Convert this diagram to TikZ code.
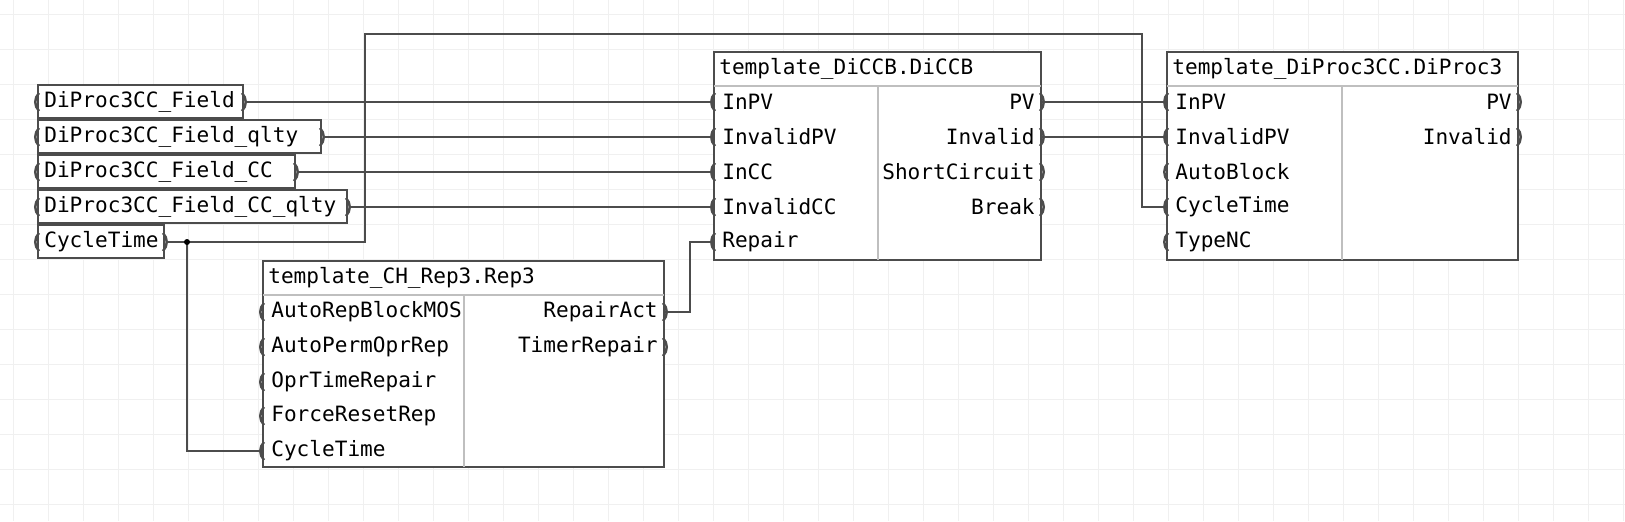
\documentclass[tikz,border=0pt]{standalone}
\usepackage{fontspec}
\setmainfont{DejaVu Sans Mono}
\usetikzlibrary{positioning}
\tikzstyle{wire} = [draw=black!70, line width=0.9pt]
\tikzstyle{blk} = [draw=black!70, line width=0.9pt, fill=white]
\tikzstyle{sep} = [draw=black!25, line width=0.7pt]
\tikzstyle{lbl} = [inner sep=0pt, font=\fontsize{12pt}{14pt}\selectfont]
\tikzstyle{inP} = [draw=black!70, line width=1.4pt]
\newcommand{\lparen}[2]{\draw[inP] (#1+1,#2-9) .. controls (#1-4,#2-4) and (#1-4,#2+4) .. (#1+1,#2+9);}
\newcommand{\rparen}[2]{\draw[inP] (#1-1,#2-9) .. controls (#1+4,#2-4) and (#1+4,#2+4) .. (#1-1,#2+9);}
\begin{document}
\begin{tikzpicture}[x=0.02cm, y=-0.02cm]
  % background grid
  \foreach \gx in {13,48,...,1625} \draw[black!6] (\gx,0) -- (\gx,521);
  \foreach \gy in {14,49,...,521} \draw[black!6] (0,\gy) -- (1625,\gy);

  % input variables
  \foreach \name/\txt/\r/\y in {f/DiProc3CC\_Field/247/102, fq/DiProc3CC\_Field\_qlty/325/137,
      fc/DiProc3CC\_Field\_CC/299/172, fcq/DiProc3CC\_Field\_CC\_qlty/351/207, ct/CycleTime/168/242}{
    \draw[blk] (38,\y-17) rectangle (\r-4,\y+16);
    \node[lbl, anchor=west] at (44,\y) {\txt};
    \lparen{38}{\y}
    \rparen{\r-4}{\y}
    \coordinate (\name) at (\r,\y);
  }

  % block DiCCB
  \draw[blk] (714,52) rectangle (1041,260);
  \draw[sep] (714,86) -- (1041,86);
  \draw[sep] (878,86) -- (878,260);
  \node[lbl, anchor=west] (diccb) at (719,69) {template\_DiCCB.DiCCB};
  \foreach \name/\txt/\y in {a1/InPV/102, a2/InvalidPV/137, a3/InCC/172, a4/InvalidCC/207, a5/Repair/242}{
    \node[lbl, anchor=west] at (722,\y) {\txt};
    \lparen{714}{\y}
    \coordinate (\name) at (714,\y);
  }
  \foreach \name/\txt/\y in {b1/PV/102, b2/Invalid/137, b3/ShortCircuit/172, b4/Break/207}{
    \node[lbl, anchor=east] at (1035,\y) {\txt};
    \rparen{1041}{\y}
    \coordinate (\name) at (1041,\y);
  }

  % block DiProc3
  \draw[blk] (1167,52) rectangle (1518,260);
  \draw[sep] (1167,86) -- (1518,86);
  \draw[sep] (1342,86) -- (1342,260);
  \node[lbl, anchor=west] (diproc) at (1172,69) {template\_DiProc3CC.DiProc3};
  \foreach \name/\txt/\y in {c1/InPV/102, c2/InvalidPV/137, c3/AutoBlock/172, c4/CycleTime/207, c5/TypeNC/242}{
    \node[lbl, anchor=west] at (1175,\y) {\txt};
    \lparen{1167}{\y}
    \coordinate (\name) at (1167,\y);
  }
  \foreach \name/\txt/\y in {d1/PV/102, d2/Invalid/137}{
    \node[lbl, anchor=east] at (1512,\y) {\txt};
    \rparen{1518}{\y}
    \coordinate (\name) at (1518,\y);
  }

  % block Rep3
  \draw[blk] (263,261) rectangle (664,467);
  \draw[sep] (263,295) -- (664,295);
  \draw[sep] (464,295) -- (464,467);
  \node[lbl, anchor=west] (rep) at (268,278) {template\_CH\_Rep3.Rep3};
  \foreach \name/\txt/\y in {e1/AutoRepBlockMOS/312, e2/AutoPermOprRep/347, e3/OprTimeRepair/382, e4/ForceResetRep/416, e5/CycleTime/451}{
    \node[lbl, anchor=west] at (271,\y) {\txt};
    \lparen{263}{\y}
    \coordinate (\name) at (263,\y);
  }
  \foreach \name/\txt/\y in {g1/RepairAct/312, g2/TimerRepair/347}{
    \node[lbl, anchor=east] at (658,\y) {\txt};
    \rparen{664}{\y}
    \coordinate (\name) at (664,\y);
  }

  % connections
  \draw[wire] (f) -- (a1);
  \draw[wire] (fq) -- (a2);
  \draw[wire] (fc) -- (a3);
  \draw[wire] (fcq) -- (a4);
  \draw[wire] (b1) -- (c1);
  \draw[wire] (b2) -- (c2);
  \coordinate (tap) at (187,242);
  \draw[wire] (ct) -- (365,242) -- (365,34) -- (1142,34) -- (1142,207) -- (c4);
  \draw[wire] (tap) |- (e5);
  \fill[black] (tap) circle (3);
  \draw[wire] (g1) -- (690,312) -- (690,242) -- (a5);

  \pgfresetboundingbox
  \useasboundingbox (0,0) rectangle (1625,521);
\end{tikzpicture}
\end{document}
